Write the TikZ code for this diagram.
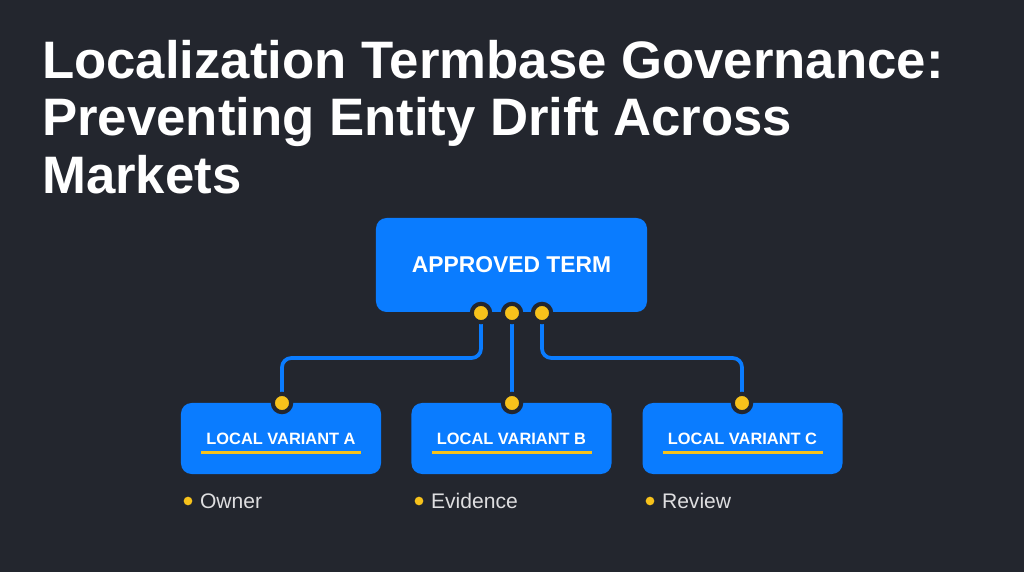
\documentclass[tikz,border=0pt]{standalone}
\usepackage{fontspec}
\setmainfont{Liberation Sans}
\usetikzlibrary{positioning}
\definecolor{bgdark}{HTML}{23262E}
\definecolor{termblue}{HTML}{0A7CFF}
\definecolor{markyellow}{HTML}{F7C21B}
\begin{document}
\begin{tikzpicture}[x=0.03cm,y=-0.03cm,
    termbox/.style={fill=termblue,rounded corners=9pt,text=white,font=\bfseries},
    variantbox/.style={termbox,minimum width=6.0cm,minimum height=2.13cm,font=\bfseries\fontsize{14}{16}\selectfont},
    link/.style={termblue,line width=3.2pt,rounded corners=8pt},
    port/.style={circle,fill=markyellow,draw=bgdark,line width=3.5pt,inner sep=0pt,minimum size=0.55cm},
    underline/.style={markyellow,line width=3pt},
    bullet/.style={circle,fill=markyellow,inner sep=0pt,minimum size=0.26cm},
    note/.style={text=white!85!bgdark,font=\fontsize{18}{20}\selectfont,anchor=west}]
\fill[bgdark] (0,0) rectangle (1024,572);
% title
\node[anchor=north west,align=left,text=white,font=\bfseries\fontsize{45}{49}\selectfont,inner sep=0pt]
  (title) at (42,40) {Localization Termbase Governance:\\Preventing Entity Drift Across\\Markets};
% boxes
\node[termbox,minimum width=8.13cm,minimum height=2.82cm,font=\bfseries\fontsize{19.5}{22}\selectfont]
  (approved) at (511.5,265) {APPROVED TERM};
\node[variantbox] (varA) at (281,438.5) {LOCAL VARIANT A};
\node[variantbox] (varB) at (511.5,438.5) {LOCAL VARIANT B};
\node[variantbox] (varC) at (742.5,438.5) {LOCAL VARIANT C};
% underlines
\foreach \v in {varA,varB,varC}
  \draw[underline] ([xshift=-2.4cm,yshift=-0.42cm]\v.center) -- ([xshift=2.4cm,yshift=-0.42cm]\v.center);
% ports
\coordinate (outA) at (481,313);
\coordinate (outB) at (512,313);
\coordinate (outC) at (542,313);
\coordinate (inA) at (282,403);
\coordinate (inB) at (512,403);
\coordinate (inC) at (742,403);
\draw[link] (outA) -- (481,358) -- (282,358) -- (inA);
\draw[link] (outB) -- (inB);
\draw[link] (outC) -- (542,358) -- (742,358) -- (inC);
\foreach \p in {outA,outB,outC,inA,inB,inC}
  \node[port] at (\p) {};
% notes
\node[bullet] (dotA) at (188,501) {};
\node[note,right=0.1cm of dotA] {Owner};
\node[bullet] (dotB) at (419,501) {};
\node[note,right=0.1cm of dotB] {Evidence};
\node[bullet] (dotC) at (650,501) {};
\node[note,right=0.1cm of dotC] {Review};
\end{tikzpicture}
\end{document}
